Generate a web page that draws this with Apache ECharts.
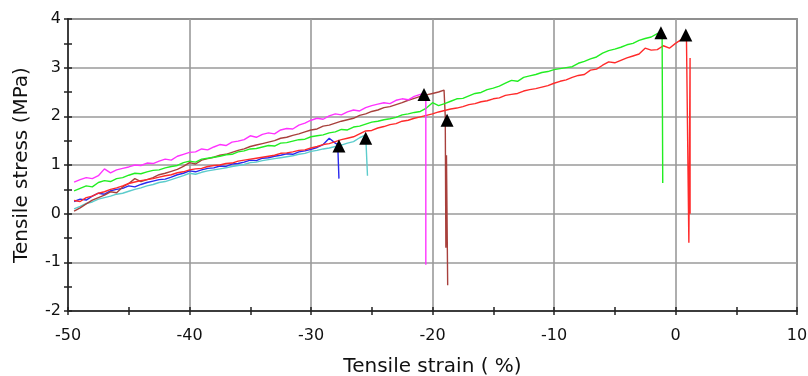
<!DOCTYPE html>
<html>
<head>
<meta charset="utf-8">
<script src="https://cdn.jsdelivr.net/npm/echarts@6/dist/echarts.min.js"></script>
<style>
  html, body { margin: 0; padding: 0; background: #fff; }
  #chart { width: 808px; height: 376px; }
</style>
</head>
<body>
<div id="chart"></div>
<script>
// strain grid shared by all curves (%)
const strain = [
  -49.5, -49, -48.5, -48, -47.5, -47, -46.5, -46, -45.5, -45,
  -44.5, -44, -43.5, -43, -42.5, -42, -41.5, -41, -40.5, -40,
  -39.5, -39, -38.5, -38, -37.5, -37, -36.5, -36, -35.5, -35,
  -34.5, -34, -33.5, -33, -32.5, -32, -31.5, -31, -30.5, -30,
  -29.5, -29, -28.5, -28, -27.5, -27, -26.5, -26, -25.5, -25,
  -24.5, -24, -23.5, -23, -22.5, -22, -21.5, -21, -20.5, -20,
  -19.5, -19, -18.5, -18, -17.5, -17, -16.5, -16, -15.5, -15,
  -14.5, -14, -13.5, -13, -12.5, -12, -11.5, -11, -10.5, -10,
  -9.5, -9, -8.5, -8, -7.5, -7, -6.5, -6, -5.5, -5,
  -4.5, -4, -3.5, -3, -2.5, -2, -1.5, -1, -0.5, 0,
  0.5, 1
];

// stress (MPa) per specimen, aligned with strain from index 0
const magenta = [
  0.65, 0.70, 0.74, 0.72, 0.78, 0.92, 0.84, 0.90, 0.93, 0.96,
  1.00, 0.99, 1.04, 1.03, 1.08, 1.12, 1.10, 1.18, 1.22, 1.26,
  1.27, 1.33, 1.31, 1.37, 1.42, 1.40, 1.47, 1.49, 1.52, 1.60,
  1.57, 1.63, 1.66, 1.64, 1.72, 1.75, 1.74, 1.82, 1.86, 1.92,
  1.96, 1.94, 2.01, 2.05, 2.03, 2.09, 2.13, 2.11, 2.18, 2.22,
  2.25, 2.28, 2.26, 2.33, 2.36, 2.34, 2.41, 2.45
];
const brown = [
  0.05, 0.12, 0.20, 0.28, 0.33, 0.38, 0.45, 0.43, 0.55, 0.62,
  0.72, 0.66, 0.70, 0.74, 0.80, 0.83, 0.87, 0.91, 0.97, 1.05,
  1.02, 1.10, 1.13, 1.16, 1.20, 1.22, 1.26, 1.30, 1.33, 1.38,
  1.41, 1.44, 1.47, 1.50, 1.55, 1.57, 1.61, 1.64, 1.68, 1.72,
  1.74, 1.80, 1.82, 1.86, 1.90, 1.93, 1.96, 2.02, 2.05, 2.10,
  2.13, 2.18, 2.20, 2.24, 2.28, 2.33, 2.37, 2.41, 2.44, 2.47,
  2.50
];
const green = [
  0.47, 0.52, 0.57, 0.55, 0.64, 0.68, 0.66, 0.72, 0.74, 0.79,
  0.83, 0.82, 0.86, 0.89, 0.90, 0.94, 0.97, 0.99, 1.05, 1.08,
  1.06, 1.12, 1.14, 1.16, 1.18, 1.21, 1.22, 1.27, 1.29, 1.33,
  1.34, 1.37, 1.40, 1.39, 1.45, 1.46, 1.49, 1.52, 1.53, 1.58,
  1.60, 1.62, 1.66, 1.68, 1.73, 1.72, 1.78, 1.80, 1.84, 1.88,
  1.90, 1.93, 1.95, 1.98, 2.03, 2.05, 2.08, 2.10, 2.17, 2.28,
  2.22, 2.26, 2.31, 2.36, 2.37, 2.42, 2.47, 2.49, 2.55, 2.58,
  2.62, 2.68, 2.74, 2.72, 2.80, 2.83, 2.86, 2.90, 2.92, 2.96,
  2.98, 3.00, 3.02, 3.09, 3.13, 3.18, 3.22, 3.30, 3.35, 3.38,
  3.42, 3.47, 3.50, 3.56, 3.60, 3.63, 3.70
];
const red = [
  0.27, 0.25, 0.33, 0.36, 0.42, 0.45, 0.50, 0.53, 0.57, 0.62,
  0.65, 0.68, 0.70, 0.72, 0.75, 0.78, 0.80, 0.84, 0.86, 0.90,
  0.92, 0.93, 0.97, 0.99, 1.00, 1.03, 1.04, 1.08, 1.10, 1.12,
  1.14, 1.16, 1.18, 1.20, 1.24, 1.25, 1.27, 1.30, 1.31, 1.35,
  1.38, 1.42, 1.44, 1.48, 1.52, 1.55, 1.58, 1.64, 1.70, 1.71,
  1.76, 1.79, 1.83, 1.85, 1.90, 1.92, 1.96, 1.99, 2.02, 2.05,
  2.09, 2.12, 2.15, 2.17, 2.20, 2.24, 2.26, 2.30, 2.32, 2.36,
  2.38, 2.43, 2.45, 2.47, 2.52, 2.55, 2.57, 2.60, 2.63, 2.68,
  2.72, 2.75, 2.80, 2.84, 2.86, 2.95, 2.97, 3.05, 3.12, 3.10,
  3.15, 3.20, 3.24, 3.28, 3.40, 3.36, 3.37, 3.45, 3.40, 3.50,
  3.58
];
const blue = [
  0.25, 0.30, 0.28, 0.36, 0.42, 0.40, 0.47, 0.50, 0.52, 0.57,
  0.55, 0.60, 0.64, 0.67, 0.70, 0.71, 0.75, 0.80, 0.83, 0.88,
  0.86, 0.90, 0.93, 0.94, 0.98, 0.97, 1.02, 1.03, 1.06, 1.10,
  1.09, 1.14, 1.15, 1.18, 1.20, 1.23, 1.22, 1.27, 1.29, 1.32,
  1.36, 1.42, 1.55, 1.45
];
const cyan = [
  0.10, 0.15, 0.21, 0.24, 0.30, 0.33, 0.36, 0.40, 0.42, 0.46,
  0.50, 0.53, 0.57, 0.60, 0.64, 0.66, 0.70, 0.74, 0.78, 0.83,
  0.81, 0.85, 0.88, 0.90, 0.92, 0.94, 0.97, 0.99, 1.01, 1.05,
  1.06, 1.09, 1.11, 1.13, 1.15, 1.17, 1.19, 1.22, 1.24, 1.28,
  1.30, 1.33, 1.35, 1.38, 1.41, 1.45, 1.48, 1.56, 1.62
];

// fracture drop after each curve [strain, stress]
const magentaTail = [[-20.7, 2.47], [-20.55, 2.4], [-20.55, -1.05]];
const brownTail = [[-19.05, 2.54], [-18.95, 2.0], [-18.9, -0.7], [-18.85, 1.2], [-18.75, -1.47]];
const greenTail = [[-1.2, 3.73], [-1.1, 3.6], [-1.05, 0.63]];
const redTail = [[0.9, 3.65], [1.05, 3.62], [1.1, -0.6], [1.2, 3.2], [1.2, 0.0]];
const blueTail = [[-27.8, 1.42], [-27.7, 0.72]];
const cyanTail = [[-25.4, 1.58], [-25.35, 0.78]];

// break markers
const breakStrain = [-27.7, -25.5, -20.7, -18.8, -1.2, 0.85];
const breakStress = [1.39, 1.55, 2.45, 1.92, 3.72, 3.67];

const font = 'DejaVu Sans';

function curve(values, tail) {
  return values.map((v, i) => [strain[i], v]).concat(tail);
}

function lineSeries(color, values, tail) {
  return {
    type: 'line',
    data: curve(values, tail),
    symbol: 'none',
    animation: false,
    lineStyle: { color: color, width: 1.4 },
    z: 3
  };
}

const chart = echarts.init(document.getElementById('chart'));

const tickLine = { color: '#222', width: 1.5 };

chart.setOption({
  animation: false,
  grid: {
    left: 68, right: 11, top: 19, bottom: 65,
    outerBoundsMode: 'none', containLabel: false,
    show: true, borderColor: '#444', borderWidth: 1.5, backgroundColor: 'transparent'
  },
  xAxis: [
    {
      type: 'value', min: -50, max: 10, interval: 10,
      name: 'Tensile strain ( %)', nameLocation: 'middle', nameGap: 46,
      nameTextStyle: { fontFamily: font, fontSize: 20, color: '#111' },
      axisLine: { onZero: false, lineStyle: { color: '#222', width: 1.5 } },
      axisTick: { show: true, length: 4, lineStyle: tickLine },
      minorTick: { show: true, splitNumber: 2, length: 4, lineStyle: tickLine },
      axisLabel: { fontFamily: font, fontSize: 16, color: '#111', margin: 17 },
      splitLine: { show: true, lineStyle: { color: '#9a9a9a', width: 1.6 } }
    },
    {
      // inner half of the crossing ticks
      type: 'value', min: -50, max: 10, interval: 10, position: 'bottom',
      axisLine: { show: false, onZero: false },
      axisTick: { show: true, inside: true, length: 4, lineStyle: tickLine },
      minorTick: { show: true, splitNumber: 2, length: 4, lineStyle: tickLine },
      axisLabel: { show: false },
      splitLine: { show: false }
    }
  ],
  yAxis: [
    {
      type: 'value', min: -2, max: 4, interval: 1,
      name: 'Tensile stress (MPa)', nameLocation: 'middle', nameGap: 36,
      nameTextStyle: { fontFamily: font, fontSize: 20, color: '#111' },
      axisLine: { onZero: false, lineStyle: { color: '#222', width: 1.5 } },
      axisTick: { show: true, length: 4, lineStyle: tickLine },
      minorTick: { show: true, splitNumber: 2, length: 4, lineStyle: tickLine },
      axisLabel: { fontFamily: font, fontSize: 16, color: '#111', margin: 7 },
      splitLine: { show: true, lineStyle: { color: '#9a9a9a', width: 1.6 } }
    },
    {
      type: 'value', min: -2, max: 4, interval: 1, position: 'left',
      axisLine: { show: false, onZero: false },
      axisTick: { show: true, inside: true, length: 4, lineStyle: tickLine },
      minorTick: { show: true, splitNumber: 2, length: 4, lineStyle: tickLine },
      axisLabel: { show: false },
      splitLine: { show: false }
    }
  ],
  series: [
    lineSeries('#5ccccc', cyan, cyanTail),
    lineSeries('#2a2aee', blue, blueTail),
    lineSeries('#a8403c', brown, brownTail),
    lineSeries('#ff2a2a', red, redTail),
    lineSeries('#22ee22', green, greenTail),
    lineSeries('#ff33ff', magenta, magentaTail),
    {
      type: 'scatter',
      data: breakStrain.map((x, i) => [x, breakStress[i]]),
      symbol: 'triangle',
      symbolSize: [13, 13],
      itemStyle: { color: '#000', opacity: 1 },
      z: 5
    }
  ]
});
</script>
</body>
</html>
